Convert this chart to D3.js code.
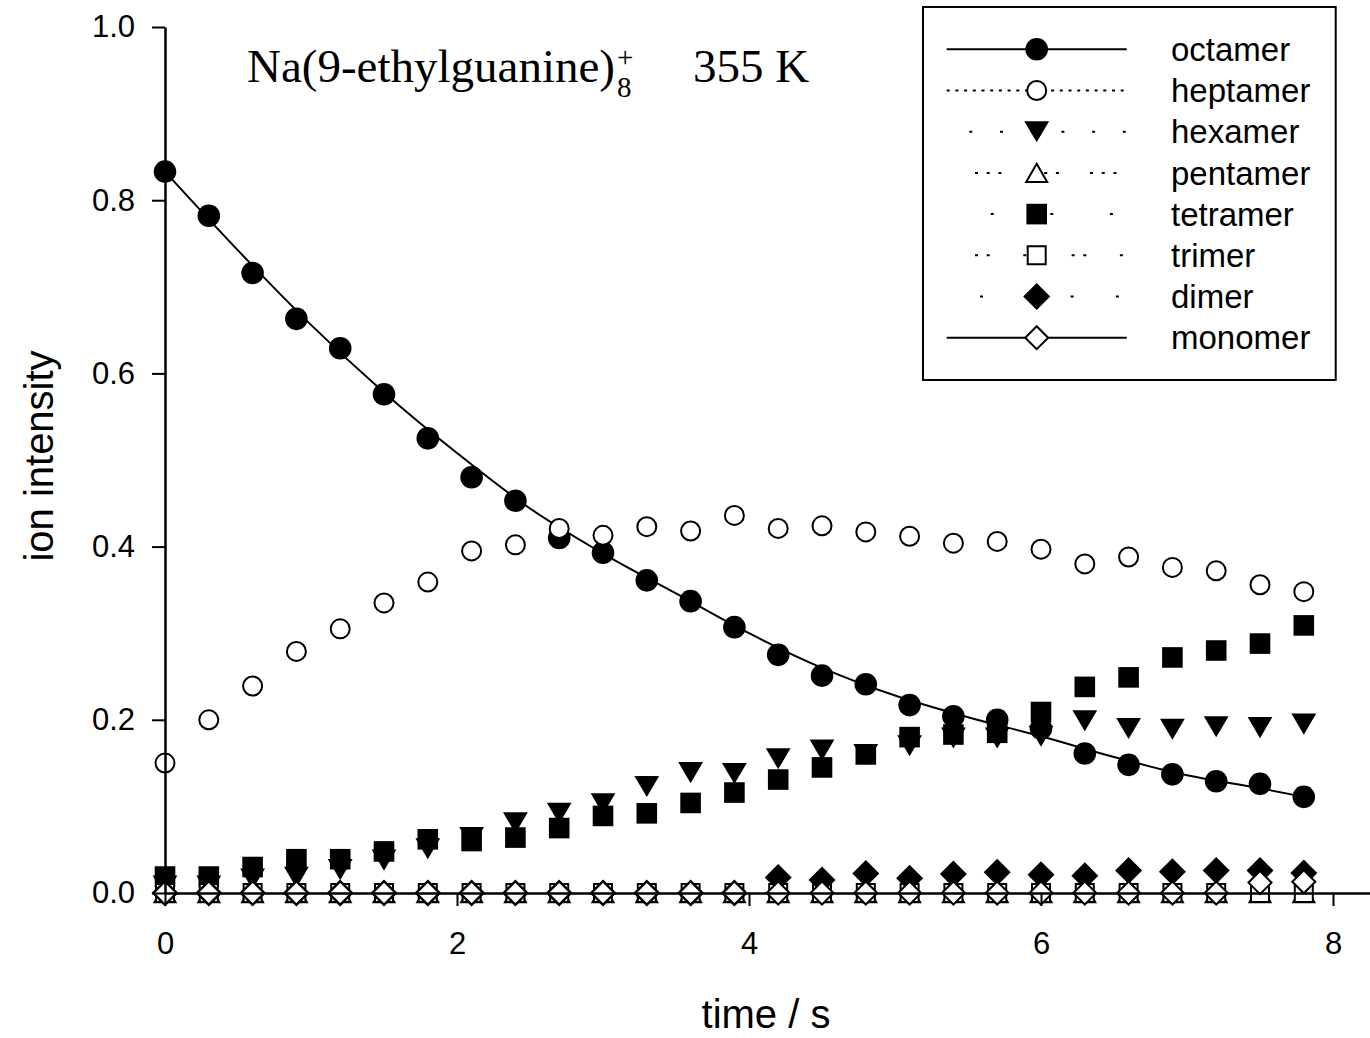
<!DOCTYPE html>
<html><head><meta charset="utf-8">
<script src="https://cdn.jsdelivr.net/npm/d3@7"></script>
<style>body{margin:0;background:#fff}svg{display:block}</style>
</head><body>
<svg id="c" width="1370" height="1038"></svg>
<script>
// ---------- data ----------
const time = [0,0.3,0.6,0.9,1.2,1.5,1.8,2.1,2.4,2.7,3.0,3.3,3.6,3.9,4.2,4.5,4.8,5.1,5.4,5.7,6.0,6.3,6.6,6.9,7.2,7.5,7.8];
const octamer  = [0.833,0.782,0.716,0.663,0.629,0.576,0.525,0.480,0.453,0.410,0.393,0.361,0.337,0.307,0.275,0.251,0.241,0.217,0.204,0.200,0.190,0.161,0.148,0.137,0.129,0.126,0.111];
const heptamer = [0.150,0.200,0.239,0.279,0.305,0.335,0.359,0.395,0.402,0.421,0.413,0.423,0.418,0.436,0.421,0.424,0.417,0.412,0.404,0.406,0.397,0.380,0.388,0.376,0.372,0.356,0.348];
const hexamer  = [0.008,0.008,0.016,0.018,0.027,0.038,0.051,0.064,0.081,0.092,0.103,0.123,0.139,0.138,0.155,0.165,0.160,0.170,0.179,0.179,0.181,0.199,0.190,0.189,0.192,0.191,0.195];
const pentamer = [0,0,0,0,0,0,0,0,0,0,0,0,0,0,0,0,0,0,0,0,0,0,0,0,0,0,0];
const tetramer = [0.019,0.019,0.030,0.039,0.039,0.048,0.062,0.060,0.064,0.075,0.089,0.092,0.104,0.116,0.131,0.145,0.160,0.180,0.183,0.185,0.209,0.238,0.249,0.272,0.280,0.288,0.309];
const trimer   = [0,0,0,0,0,0,0,0,0,0,0,0,0,0,0,0,0,0,0,0,0,0,0,0,0,0,0];
const dimer    = [0,0,0,0,0,0,0,0,0,0,0,0,0,0,0.018,0.015,0.0225,0.017,0.022,0.024,0.021,0.020,0.026,0.0245,0.026,0.026,0.023];
const monomer  = [0,0,0,0,0,0,0,0,0,0,0,0,0,0,0,0,0,0,0,0,0,0,0,0,0,0.012,0.013];

// fitted curve through the octamer data
const fitTime    = [0,0.5,1.0,1.5,2.0,2.5,3.0,3.5,4.0,4.5,5.0,5.5,6.0,6.5,7.0,7.5,7.8];
const fitOctamer = [0.833,0.742,0.656,0.578,0.508,0.444,0.392,0.346,0.300,0.260,0.228,0.203,0.181,0.157,0.136,0.121,0.111];

const seriesNames = ["octamer","heptamer","hexamer","pentamer","tetramer","trimer","dimer","monomer"];
const seriesValues = [octamer,heptamer,hexamer,pentamer,tetramer,trimer,dimer,monomer];

const xTicks = [0,2,4,6,8];
const yTicks = [0,0.2,0.4,0.6,0.8,1.0];
const xTitle = "time / s";
const yTitle = "ion intensity";

// ---------- styles ----------
const markerStyle = {
  octamer:  {shape:"circle",  fill:true,  size:11.3},
  heptamer: {shape:"circle",  fill:false, size:9.5},
  hexamer:  {shape:"triDown", fill:true,  size:12.4},
  pentamer: {shape:"triUp",   fill:false, size:10.5},
  tetramer: {shape:"square",  fill:true,  size:10.3},
  trimer:   {shape:"square",  fill:false, size:9},
  dimer:    {shape:"diamond", fill:true,  size:13.5},
  monomer:  {shape:"diamond", fill:false, size:11.5}
};
const legendDash = {
  octamer:  {dash:null, off:0},
  heptamer: {dash:"3,5.7", off:0},
  hexamer:  {dash:"3,27.7", off:8.1},
  pentamer: {dash:"3,8.7,3,8.7,3,31.1", off:29.2},
  tetramer: {dash:"3,56.6", off:15.6},
  trimer:   {dash:"3,8.7,3,33.6", off:20},
  dimer:    {dash:"3,42.3", off:12},
  monomer:  {dash:null, off:0}
};

function shapePath(shape, s){
  switch(shape){
    case "circle": return `M${s},0A${s},${s} 0 1,1 ${-s},0A${s},${s} 0 1,1 ${s},0Z`;
    case "square": return `M${-s},${-s}H${s}V${s}H${-s}Z`;
    case "diamond": return `M0,${-s}L${s},0L0,${s}L${-s},0Z`;
    case "triDown": { const h = s*0.85; return `M${-s},${-h}L${s},${-h}L0,${h}Z`; }
    case "triUp": { const h = s*0.87; return `M0,${-h}L${s},${h}L${-s},${h}Z`; }
  }
}

const svg = d3.select("#c");
const x = d3.scaleLinear().domain([0,8.25]).range([165,1369.5]);
const y = d3.scaleLinear().domain([0,1]).range([893,27]);

// fit line
const line = d3.line().x(d=>x(d[0])).y(d=>y(d[1])).curve(d3.curveMonotoneX);
svg.append("path")
  .attr("d", line(fitTime.map((t,i)=>[t,fitOctamer[i]])))
  .attr("fill","none").attr("stroke","#000").attr("stroke-width",2);

// markers
seriesNames.forEach((name,k)=>{
  const st = markerStyle[name];
  svg.append("g").selectAll("path").data(time.map((t,i)=>[t,seriesValues[k][i]]))
    .join("path")
    .attr("transform", d=>`translate(${x(d[0])},${y(d[1])})`)
    .attr("d", shapePath(st.shape, st.size))
    .attr("fill", st.fill ? "#000" : "#fff")
    .attr("stroke", st.fill ? "none" : "#000")
    .attr("stroke-width", 2);
});

// axes
const xAxis = svg.append("g").attr("transform",`translate(0,${y(0)})`)
  .call(d3.axisBottom(x).tickValues(xTicks).tickSize(13).tickSizeOuter(0).tickPadding(26).tickFormat(d3.format("d")));
const yAxis = svg.append("g").attr("transform",`translate(${x(0)},0)`)
  .call(d3.axisLeft(y).tickValues(yTicks).tickSize(13).tickSizeOuter(0).tickPadding(17).tickFormat(d3.format(".1f")));
[xAxis,yAxis].forEach(a=>{
  a.select(".domain").attr("stroke","#000").attr("stroke-width",2.5);
  a.selectAll(".tick line").attr("stroke","#000").attr("stroke-width",2);
  a.selectAll(".tick text").attr("fill","#000")
    .style("font-family","Liberation Sans, Arial, sans-serif").style("font-size","31px");
});

// axis titles
svg.append("text").attr("x",766).attr("y",1028).attr("text-anchor","middle")
  .style("font-family","Liberation Sans, Arial, sans-serif").style("font-size","40px").text(xTitle);
svg.append("text").attr("transform","translate(53,456) rotate(-90)").attr("text-anchor","middle")
  .style("font-family","Liberation Sans, Arial, sans-serif").style("font-size","40px").text(yTitle);

// title
const title = svg.append("text").attr("x",247).attr("y",82)
  .style("font-family","Liberation Serif, Times New Roman, serif").style("font-size","47px");
title.append("tspan").text("Na(9-ethylguanine)");
svg.append("text").attr("x",617).attr("y",97)
  .style("font-family","Liberation Serif, Times New Roman, serif").style("font-size","29px").text("8");
svg.append("text").attr("x",617).attr("y",67)
  .style("font-family","Liberation Serif, Times New Roman, serif").style("font-size","29px").text("+");
svg.append("text").attr("x",693).attr("y",82)
  .style("font-family","Liberation Serif, Times New Roman, serif").style("font-size","47px").text("355 K");

// legend
const lg = svg.append("g");
lg.append("rect").attr("x",923).attr("y",7).attr("width",412.7).attr("height",373)
  .attr("fill","#fff").attr("stroke","#000").attr("stroke-width",2);
seriesNames.forEach((name,i)=>{
  const cy = 49.3 + i*41.2;
  const ld = legendDash[name];
  const l = lg.append("line").attr("x1",946.7).attr("x2",1126.7).attr("y1",cy).attr("y2",cy)
    .attr("stroke","#000").attr("stroke-width",2);
  if(ld.dash) l.attr("stroke-dasharray",ld.dash).attr("stroke-dashoffset",ld.off);
  const st = markerStyle[name];
  lg.append("path").attr("transform",`translate(1036.7,${cy})`)
    .attr("d", shapePath(st.shape, st.size))
    .attr("fill", st.fill ? "#000" : "#fff")
    .attr("stroke", st.fill ? "none" : "#000").attr("stroke-width",2);
  lg.append("text").attr("x",1171).attr("y",cy+11.7)
    .style("font-family","Liberation Sans, Arial, sans-serif").style("font-size","33px").text(name);
});
</script>
</body></html>
